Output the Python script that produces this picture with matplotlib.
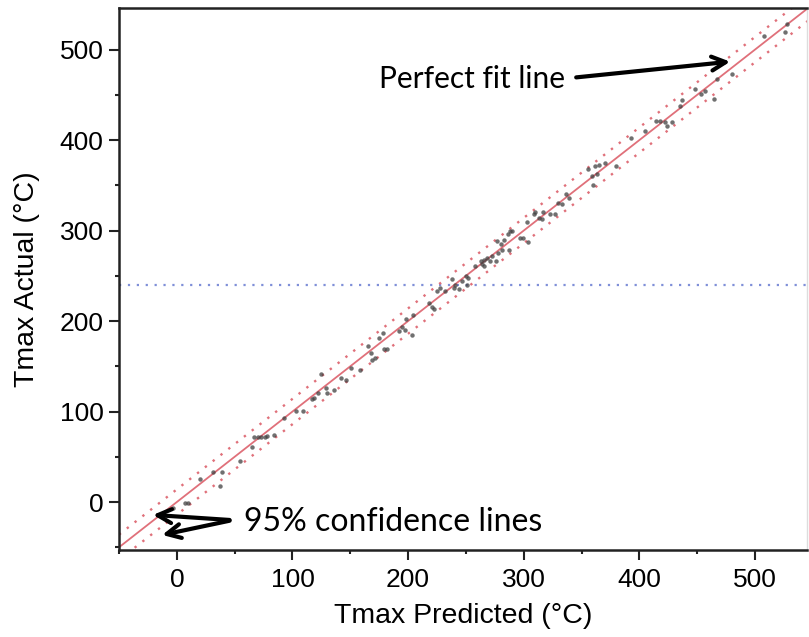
import matplotlib.pyplot as plt
import numpy as np
from matplotlib.ticker import MultipleLocator

# Tmax predicted vs actual
predicted = [-3, 7, 10, 20, 31, 39, 37, 55, 65, 67, 70, 73, 76, 78, 84, 93, 103, 109, 117, 122,
             125, 119, 129, 130, 136, 142, 146, 151, 158, 165, 168, 169, 171, 175, 178, 179, 182,
             192, 195, 197, 198, 203, 204, 218, 221, 222, 225, 228, 232, 238, 240, 241, 244, 247,
             250, 251, 252, 258, 263, 264, 266, 266, 268, 271, 273, 276, 278, 277, 280, 281, 283,
             287, 286, 288, 290, 297, 299, 304, 303, 309, 310, 313, 316, 317, 323, 327, 330, 333,
             337, 339, 356, 359, 362, 363, 360, 365, 370, 380, 393, 405, 414, 418, 422, 424, 428,
             435, 437, 448, 453, 457, 465, 467, 480, 508, 526, 528]
actual = [-7, -1, -1, 25, 33, 33, 18, 45, 61, 72, 72, 72, 72, 73, 74, 93, 101, 101, 114, 121,
          142, 115, 126, 120, 124, 137, 135, 148, 146, 172, 165, 157, 159, 181, 187, 169, 169,
          189, 193, 190, 202, 185, 207, 220, 216, 213, 233, 237, 233, 246, 237, 240, 235, 244,
          250, 240, 248, 261, 266, 263, 268, 261, 270, 266, 272, 266, 275, 288, 285, 279, 290,
          279, 296, 300, 299, 292, 292, 287, 310, 318, 320, 314, 313, 320, 318, 318, 331, 329,
          340, 336, 368, 360, 371, 363, 350, 373, 375, 371, 402, 410, 421, 421, 420, 416, 420,
          438, 444, 456, 451, 454, 445, 467, 473, 515, 519, 528]
conf_offset = 14      # half width of the 95% band
mean_actual = 240     # dotted blue mean line

fig = plt.figure(figsize=(8.09, 6.37), dpi=100)
ax = fig.add_axes([119 / 809, 1 - 550 / 637, (807 - 119) / 809, (550 - 8) / 637])

xmin, xmax = -50, 545
ymin, ymax = -53, 546
line_x = np.array([xmin, xmax + 10])

# perfect fit and confidence lines
ax.plot(line_x, line_x, color='#e0707a', lw=1.3, zorder=2)
ax.plot(line_x, line_x + conf_offset, color='#e0707a', lw=1.7, ls=(0, (1, 3.2)), zorder=2)
ax.plot(line_x, line_x - conf_offset, color='#e0707a', lw=1.7, ls=(0, (1, 3.2)), zorder=2)
ax.axhline(mean_actual, color='#7f8fd8', lw=1.6, ls=(0, (1, 3)), zorder=1)

ax.plot(predicted, actual, 'o', ms=3.2, color='#404040', alpha=0.75, mec='none', zorder=3)

ax.set_xlim(xmin, xmax)
ax.set_ylim(ymin, ymax)

ax.xaxis.set_major_locator(MultipleLocator(100))
ax.xaxis.set_minor_locator(MultipleLocator(50))
ax.yaxis.set_major_locator(MultipleLocator(100))
ax.yaxis.set_minor_locator(MultipleLocator(50))
ax.tick_params(which='major', direction='out', length=7, width=1.5, labelsize=19, pad=4,
               color='#222222')
ax.tick_params(axis='x', which='major', pad=6)
ax.tick_params(which='minor', direction='out', length=3, width=1.5, color='#222222')
for lab in ax.get_xticklabels() + ax.get_yticklabels():
    lab.set_fontfamily('Liberation Sans')

for side in ['left', 'top', 'bottom']:
    ax.spines[side].set_linewidth(1.8)
    ax.spines[side].set_color('#222222')
ax.spines['right'].set_color('#dddddd')
ax.spines['right'].set_linewidth(1)

ax.set_xlabel('Tmax Predicted (°C)', fontsize=20.5, family='Liberation Sans', labelpad=8)
ax.set_ylabel('Tmax Actual (°C)', fontsize=20.5, family='Liberation Sans', labelpad=14)

# annotations
ax.annotate('', xy=(481, 487), xytext=(343, 469),
            arrowprops=dict(arrowstyle='->', color='black', lw=3, mutation_scale=25))
ax.text(175, 468, 'Perfect fit line', fontsize=21.5, family='Lato', va='center', ha='left')

ax.annotate('', xy=(-23, -14), xytext=(48, -20),
            arrowprops=dict(arrowstyle='->', color='black', lw=3, mutation_scale=25))
ax.annotate('', xy=(-15, -37), xytext=(48, -20),
            arrowprops=dict(arrowstyle='->', color='black', lw=3, mutation_scale=25))
ax.text(58, -22, '95% confidence lines', fontsize=23, family='Lato', va='center', ha='left')

fig.savefig('out.png', dpi=100)
